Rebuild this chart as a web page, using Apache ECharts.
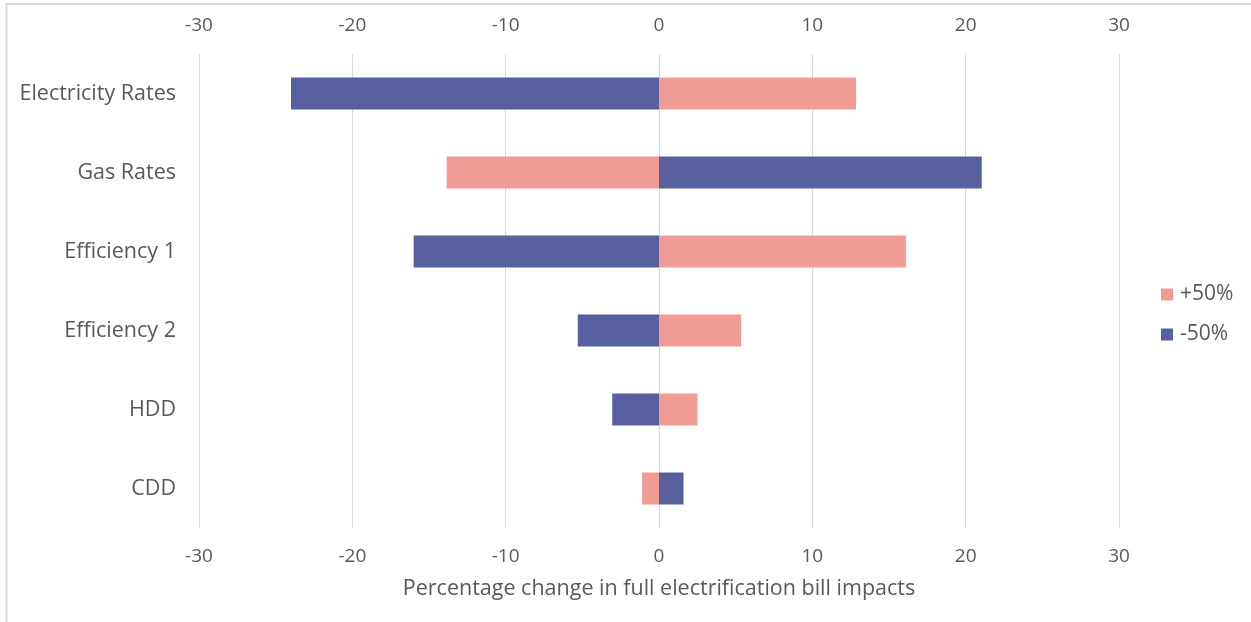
<!DOCTYPE html>
<html>
<head>
<meta charset="utf-8">
<script src="https://cdn.jsdelivr.net/npm/echarts@6/dist/echarts.min.js"></script>
<style>
  html, body { margin: 0; padding: 0; background: #ffffff; }
  #chart { width: 1251px; height: 622px; }
</style>
</head>
<body>
<div id="chart"></div>
<script>
// Sensitivity inputs, top to bottom
const categories = ['Electricity Rates', 'Gas Rates', 'Efficiency 1', 'Efficiency 2', 'HDD', 'CDD'];
// Percentage change in bill impacts for a +50% / -50% change of each input
const plus50 = [12.85, -13.85, 16.1, 5.35, 2.5, -1.1];
const minus50 = [-24.0, 21.05, -16.0, -5.3, -3.05, 1.6];
const axisTicks = { min: -30, max: 30, interval: 10 };
const axisTitle = 'Percentage change in full electrification bill impacts';

const textColor = '#595959';
const gridColor = '#D9D9D9';
const fontFamily = '"Open Sans", "Noto Sans", sans-serif';

const chart = echarts.init(document.getElementById('chart'), null, { renderer: 'canvas' });

const valueAxisBase = {
  type: 'value',
  min: axisTicks.min,
  max: axisTicks.max,
  interval: axisTicks.interval,
  axisLine: { show: false },
  axisTick: { show: false },
  axisLabel: { color: textColor, fontSize: 19, fontFamily: fontFamily, margin: 19 },
  splitLine: { show: true, lineStyle: { color: gridColor, width: 1 } }
};

chart.setOption({
  animation: false,
  backgroundColor: '#ffffff',
  textStyle: { fontFamily: fontFamily },
  grid: { left: 199, right: 132, top: 54, bottom: 94, containLabel: false },
  legend: {
    orient: 'vertical',
    left: 1156,
    top: 279,
    itemWidth: 12,
    itemHeight: 12,
    itemGap: 19,
    icon: 'rect',
    data: ['+50%', '-50%'],
    textStyle: { color: textColor, fontSize: 21, fontFamily: fontFamily, padding: [0, 0, 0, 2] }
  },
  xAxis: [
    Object.assign({}, valueAxisBase, {
      position: 'bottom',
      name: axisTitle,
      nameLocation: 'middle',
      nameGap: 50,
      nameTextStyle: { color: textColor, fontSize: 21.5, fontFamily: fontFamily }
    }),
    Object.assign({}, valueAxisBase, {
      position: 'top',
      splitLine: { show: false }
    })
  ],
  yAxis: {
    type: 'category',
    data: categories,
    inverse: true,
    axisLine: { show: false },
    axisTick: { show: false },
    axisLabel: { color: textColor, fontSize: 21.5, fontFamily: fontFamily, margin: 23 }
  },
  series: [
    {
      name: '+50%',
      type: 'bar',
      xAxisIndex: 0,
      data: plus50,
      barWidth: 32,
      barGap: '-100%',
      itemStyle: { color: '#F19B95' }
    },
    {
      name: '-50%',
      type: 'bar',
      xAxisIndex: 0,
      data: minus50,
      barWidth: 32,
      barGap: '-100%',
      itemStyle: { color: '#585F9E' }
    }
  ],
  graphic: [
    { type: 'line', shape: { x1: 6.5, y1: 3, x2: 6.5, y2: 622 }, style: { stroke: '#D9D9D9', lineWidth: 2 } },
    { type: 'line', shape: { x1: 6, y1: 4, x2: 1251, y2: 4 }, style: { stroke: '#D9D9D9', lineWidth: 2 } }
  ]
});
</script>
</body>
</html>
